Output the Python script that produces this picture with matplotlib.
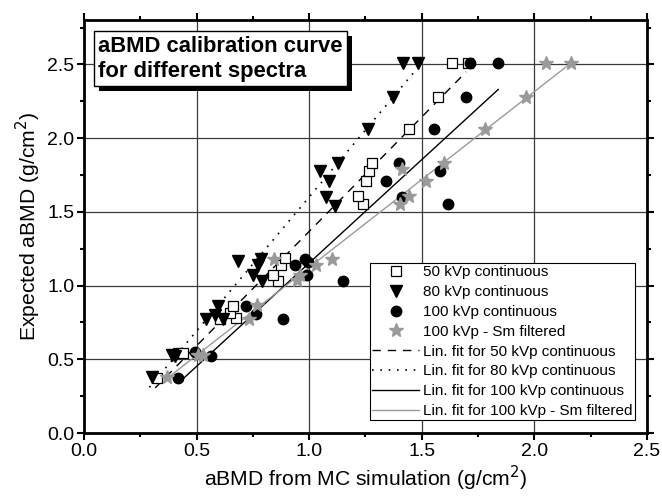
import numpy as np
import matplotlib
matplotlib.use("Agg")
import matplotlib.pyplot as plt
from matplotlib.patches import Rectangle

plt.rcParams['font.family'] = ['Liberation Sans', 'DejaVu Sans']

# --- DATA ---
# 50 kVp continuous (open squares)
x50 = [0.324, 0.418, 0.44, 0.604, 0.676, 0.649, 0.662, 0.862, 0.84, 0.876, 0.893,
       1.24, 1.218, 1.253, 1.267, 1.28, 1.444, 1.573, 1.636, 1.707]
y50 = [0.37, 0.54, 0.54, 0.77, 0.78, 0.815, 0.86, 1.03, 1.07, 1.14, 1.19,
       1.55, 1.61, 1.71, 1.78, 1.83, 2.06, 2.28, 2.51, 2.51]

# 80 kVp continuous (filled down-triangles)
x80 = [0.30, 0.391, 0.404, 0.542, 0.618, 0.582, 0.596, 0.791, 0.751, 0.773, 0.684, 0.787,
       1.116, 1.076, 1.09, 1.049, 1.128, 1.262, 1.373, 1.418, 1.484]
y80 = [0.38, 0.53, 0.52, 0.77, 0.77, 0.80, 0.86, 1.03, 1.07, 1.14, 1.17, 1.18,
       1.54, 1.60, 1.71, 1.78, 1.83, 2.06, 2.28, 2.51, 2.51]

# 100 kVp continuous (filled circles)
x100 = [0.418, 0.564, 0.493, 0.884, 0.764, 0.72, 1.151, 0.991, 0.938, 0.982, 0.995,
        1.618, 1.413, 1.342, 1.582, 1.40, 1.556, 1.698, 1.716, 1.84]
y100 = [0.37, 0.52, 0.55, 0.77, 0.81, 0.86, 1.03, 1.07, 1.14, 1.18, 1.16,
        1.55, 1.60, 1.71, 1.78, 1.83, 2.06, 2.28, 2.51, 2.51]

# 100 kVp - Sm filtered (grey stars)
xsm = [0.369, 0.507, 0.529, 0.733, 0.769, 0.947, 0.96, 1.031, 0.844, 1.102,
       1.404, 1.444, 1.52, 1.413, 1.60, 1.782, 1.964, 2.053, 2.164]
ysm = [0.38, 0.53, 0.53, 0.77, 0.87, 1.04, 1.07, 1.14, 1.18, 1.18,
       1.55, 1.61, 1.71, 1.79, 1.83, 2.06, 2.28, 2.51, 2.51]

# linear fits, end points as drawn in the reference
fit50_x = [0.316, 1.698]
fit50_y = [0.306, 2.45]
fit80_x = [0.29, 1.484]
fit80_y = [0.31, 2.48]
fit100_x = [0.427, 1.84]
fit100_y = [0.35, 2.33]
fitsm_x = [0.36, 2.164]
fitsm_y = [0.36, 2.51]

GREY = '#9a9a9a'

fig = plt.figure(figsize=(6.62, 4.98), dpi=100)
ax = fig.add_axes([0.127, 0.1305, 0.85, 0.829])

ax.grid(True, which='major', color='#3a3a3a', linewidth=0.9)
ax.set_axisbelow(True)

# fits
ax.plot(fit50_x, fit50_y, color='black', linestyle=(0, (6, 5)), linewidth=1.0,
        label='Lin. fit for 50 kVp continuous')
ax.plot(fit80_x, fit80_y, color='black', linestyle=(0, (1, 4)), linewidth=1.2,
        label='Lin. fit for 80 kVp continuous')
ax.plot(fit100_x, fit100_y, color='black', linestyle='-', linewidth=1.0,
        label='Lin. fit for 100 kVp continuous')
ax.plot(fitsm_x, fitsm_y, color=GREY, linestyle='-', linewidth=1.0,
        label='Lin. fit for 100 kVp - Sm filtered')

# data
ax.plot(x50, y50, 's', markersize=6.5, markerfacecolor='white', markeredgecolor='black',
        markeredgewidth=0.9, linestyle='none', label='50 kVp continuous')
ax.plot(x80, y80, 'v', markersize=8, color='black', linestyle='none', label='80 kVp continuous')
ax.plot(x100, y100, 'o', markersize=7.5, color='black', linestyle='none', label='100 kVp continuous')
ax.plot(xsm, ysm, '*', markersize=10, color=GREY, linestyle='none', label='100 kVp - Sm filtered')

ax.set_xlim(0, 2.5)
ax.set_ylim(0, 2.8)
ax.set_xticks(np.arange(0, 2.51, 0.5))
ax.set_yticks(np.arange(0, 2.51, 0.5))
ax.set_xticks(np.arange(0.25, 2.5, 0.5), minor=True)
ax.set_yticks(np.arange(0.25, 2.8, 0.5), minor=True)
ax.xaxis.set_major_formatter(matplotlib.ticker.FormatStrFormatter('%.1f'))
ax.yaxis.set_major_formatter(matplotlib.ticker.FormatStrFormatter('%.1f'))
ax.tick_params(which='both', direction='out', top=True, right=True, labelsize=14, width=1.5)
ax.tick_params(which='major', length=5, pad=2)
ax.tick_params(which='minor', length=3)
for s in ax.spines.values():
    s.set_linewidth(2)

ax.set_xlabel('aBMD from MC simulation (g/cm$^2$)', fontsize=15.2, labelpad=3)
ax.set_ylabel('Expected aBMD (g/cm$^2$)', fontsize=15.2, labelpad=3)

# legend: markers first, then fits
handles, labels = ax.get_legend_handles_labels()
order = [4, 5, 6, 7, 0, 1, 2, 3]
leg = ax.legend([handles[i] for i in order], [labels[i] for i in order],
                loc='lower right', bbox_to_anchor=(0.979, 0.031), fontsize=11,
                fancybox=False, framealpha=1, edgecolor='black', borderpad=0.15,
                handlelength=3.1, handletextpad=0.25, labelspacing=0.38,
                borderaxespad=0)
leg.get_frame().set_linewidth(0.8)

# title box with drop shadow
title = ax.text(0.025, 0.962, 'aBMD calibration curve\nfor different spectra',
                transform=ax.transAxes, fontsize=15.8, fontweight='bold',
                va='top', ha='left', linespacing=1.25, zorder=6,
                bbox=dict(boxstyle='square,pad=0.2', facecolor='white',
                          edgecolor='black', linewidth=1))
fig.canvas.draw()
bb = title.get_bbox_patch().get_window_extent()
shadow = Rectangle((bb.x0 + 5, bb.y0 - 5), bb.width, bb.height, transform=None,
                   facecolor='black', edgecolor='none', zorder=5)
ax.add_artist(shadow)

fig.savefig('out.png', dpi=100)
